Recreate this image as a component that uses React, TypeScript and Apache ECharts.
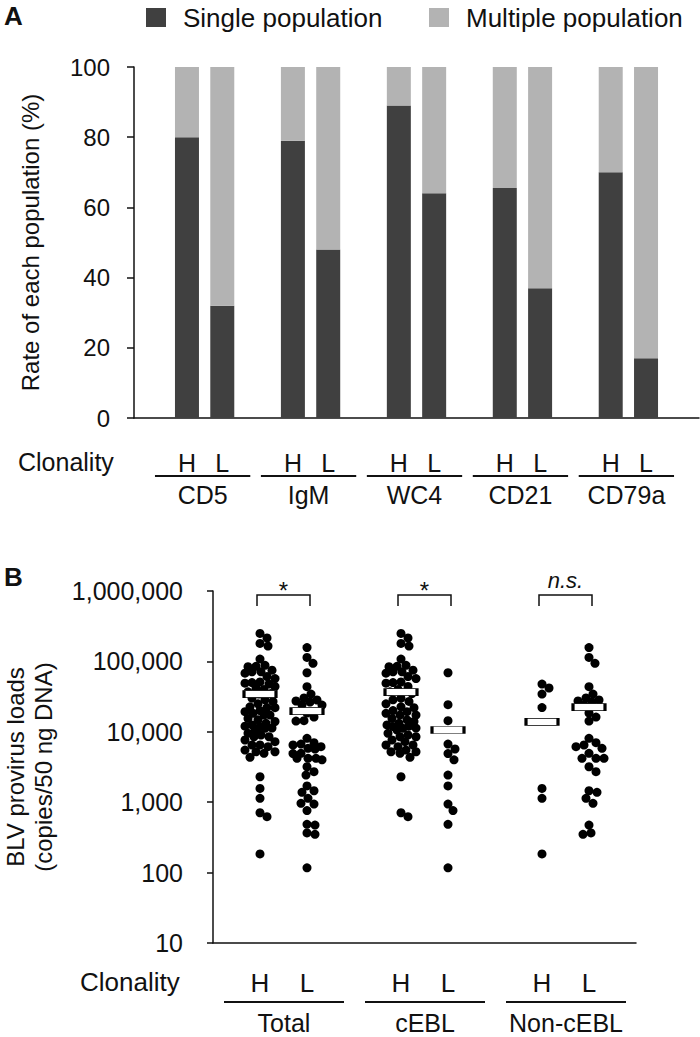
import React, { useEffect, useRef } from "react";
import * as echarts from "echarts";

const FONT = '"Liberation Sans", Arial, Helvetica, sans-serif';
const INK = "#111111";
const DARK = "#404040";
const LIGHT = "#b3b3b3";

// ---------- Panel A data ----------
const catA = ["", "H", "L", "", "H", "L", "", "H", "L", "", "H", "L", "", "H", "L", ""];
const markersA = ["CD5", "IgM", "WC4", "CD21", "CD79a"];
const singleH = [80, 79, 89, 65.5, 70];
const singleL = [32, 48, 64, 37, 17];
const multipleH = [20, 21, 11, 34.5, 30];
const multipleL = [68, 52, 36, 63, 83];
const yTicksA = [0, 20, 40, 60, 80, 100];

// ---------- Panel B data ----------
const groupsB = ["Total", "cEBL", "Non-cEBL"];
const labelsB: Record<number, string> = { 1: "H", 2: "L", 4: "H", 5: "L", 7: "H", 8: "L" };
const cEBL_H = [250000, 215000, 180000, 165000, 108000, 88000, 85000, 84000, 75000, 71000, 71000, 68000, 61000,
  57000, 51000, 50000, 49000, 44000, 40000, 37000, 35000, 30000, 28500, 27000, 25000, 22600, 22000, 20000, 19300,
  18300, 17300, 17300, 15500, 14800, 14000, 13200, 12500, 12000, 11900, 11300, 11200, 10600, 9500, 9000, 8500,
  8500, 7650, 7230, 6490, 6490, 6140, 5510, 5210, 5210, 4950, 4340, 2300, 708, 622];
const cEBL_L = [69000, 24300, 14400, 6700, 5700, 4900, 4000, 2430, 1700, 940, 760, 485, 117];
const nonCEBL_H = [47700, 41900, 34400, 22100, 1570, 1135, 184];
const nonCEBL_L = [157000, 114000, 94000, 43700, 34400, 30200, 28300, 27400, 26500, 24000, 18500, 16200, 14200,
  8090, 7000, 6490, 6140, 5830, 4950, 4200, 4200, 4200, 3190, 2710, 1455, 1380, 1135, 964, 474, 366, 350];
const total_H = cEBL_H.concat(nonCEBL_H);
const total_L = cEBL_L.concat(nonCEBL_L);
const meansB = [34400, 19700, 36700, 10600, 13800, 22400];
const signifB = ["*", "*", "n.s."];
const yTicksB = [10, 100, 1000, 10000, 100000, 1000000];

// layout constants
const GA = { left: 134, top: 67, width: 565, height: 351 };
const GB = { left: 213, top: 591, width: 423, height: 352 };

function yPixB(v: number) {
  return GB.top + (6 - Math.log10(v)) * (GB.height / 5);
}

// deterministic beeswarm layout (pixel offsets converted to axis units)
function swarm(values: number[], center: number) {
  const D = 8;
  const unit = GB.width / 9;
  const placed: { x: number; y: number }[] = [];
  const order = values.map((_, i) => i).sort((a, b) => values[b] - values[a]);
  const out: number[][] = new Array(values.length);
  for (const i of order) {
    const y = yPixB(values[i]);
    let best = 0;
    let bestScore = -Infinity;
    for (let k = 0; k <= 30; k++) {
      const off = (k % 2 === 1 ? 1 : -1) * Math.ceil(k / 2);
      let minD = Infinity;
      for (const p of placed) {
        const d = Math.hypot(p.x - off, p.y - y);
        if (d < minD) minD = d;
      }
      if (minD >= D) { best = off; break; }
      if (minD > bestScore) { bestScore = minD; best = off; }
    }
    placed.push({ x: best, y });
    out[i] = [center + best / unit, values[i]];
  }
  return out;
}

function txt(text: string, x: number, y: number, size: number, opts: any = {}) {
  return {
    type: "text",
    x, y,
    rotation: opts.rotation || 0,
    silent: true,
    style: {
      text,
      fill: INK,
      fontSize: size,
      fontFamily: FONT,
      fontWeight: opts.weight || "normal",
      fontStyle: opts.style || "normal",
      textAlign: opts.align || "center",
      align: opts.align || "center",
      textVerticalAlign: opts.valign || "middle",
      verticalAlign: opts.valign || "middle",
    },
  };
}

function line(x1: number, y1: number, x2: number, y2: number, w = 2) {
  return { type: "line", silent: true, shape: { x1, y1, x2, y2 }, style: { stroke: INK, lineWidth: w } };
}

export default function App() {
  const ref = useRef<HTMLDivElement>(null);
  useEffect(() => {
    document.body.style.margin = "0";
    if (!ref.current) return;
    const chart = echarts.init(ref.current, undefined, { renderer: "svg" });

    const singleData: (number | null)[] = catA.map(() => null);
    const multiData: (number | null)[] = catA.map(() => null);
    markersA.forEach((_, g) => {
      singleData[g * 3 + 1] = singleH[g];
      singleData[g * 3 + 2] = singleL[g];
      multiData[g * 3 + 1] = multipleH[g];
      multiData[g * 3 + 2] = multipleL[g];
    });

    const axisLine = { show: true, onZero: false, lineStyle: { color: INK, width: 1.5 } };
    const colsB = [total_H, total_L, cEBL_H, cEBL_L, nonCEBL_H, nonCEBL_L];
    const posB = [1, 2, 4, 5, 7, 8];
    const namesB = ["Total H", "Total L", "cEBL H", "cEBL L", "Non-cEBL H", "Non-cEBL L"];

    const option: any = {
      animation: false,
      textStyle: { fontFamily: FONT, color: INK },
      grid: [
        { ...GA, containLabel: false },
        { ...GB, containLabel: false },
      ],
      xAxis: [
        {
          type: "category", gridIndex: 0, data: catA,
          axisLine, axisTick: { show: false },
          axisLabel: { interval: 0, margin: 32, fontSize: 25, color: INK, fontFamily: FONT },
        },
        {
          type: "value", gridIndex: 1, min: 0, max: 9, interval: 1,
          axisLine, axisTick: { show: false }, splitLine: { show: false },
          axisLabel: {
            margin: 27, fontSize: 26, color: INK, fontFamily: FONT,
            showMinLabel: true, showMaxLabel: true,
            formatter: (v: number) => labelsB[Math.round(v)] ?? "",
          },
        },
      ],
      yAxis: [
        {
          type: "value", gridIndex: 0, min: yTicksA[0], max: yTicksA[yTicksA.length - 1], interval: 20,
          axisLine, axisTick: { show: true, length: 7, lineStyle: { color: INK, width: 1.5 } },
          splitLine: { show: false },
          axisLabel: { margin: 24, fontSize: 24, color: INK, fontFamily: FONT },
        },
        {
          type: "log", gridIndex: 1, logBase: 10, min: yTicksB[0], max: yTicksB[yTicksB.length - 1],
          axisLine, axisTick: { show: true, length: 6, lineStyle: { color: INK, width: 1.5 } },
          minorTick: { show: false }, splitLine: { show: false },
          axisLabel: {
            margin: 30, fontSize: 25, color: INK, fontFamily: FONT,
            formatter: (v: number) => Math.round(v).toLocaleString("en-US"),
          },
        },
      ],
      series: [
        {
          name: "Single population", type: "bar", stack: "pop", xAxisIndex: 0, yAxisIndex: 0,
          barWidth: 24, data: singleData, itemStyle: { color: DARK },
        },
        {
          name: "Multiple population", type: "bar", stack: "pop", xAxisIndex: 0, yAxisIndex: 0,
          barWidth: 24, data: multiData, itemStyle: { color: LIGHT },
        },
        ...colsB.map((vals, i) => ({
          name: namesB[i], type: "scatter", xAxisIndex: 1, yAxisIndex: 1,
          symbol: "circle", symbolSize: 9, itemStyle: { color: "#000", opacity: 1 }, z: 3,
          data: swarm(vals, posB[i]),
        })),
        {
          name: "Mean", type: "scatter", xAxisIndex: 1, yAxisIndex: 1,
          symbol: "rect", symbolSize: [32, 7], z: 5,
          itemStyle: { color: "#ffffff", borderColor: "#000", borderWidth: 1.5, opacity: 1 },
          data: meansB.map((m, i) => [posB[i], m]),
        },
      ],
    };
    chart.setOption(option);

    const pxA = (i: number) => chart.convertToPixel({ xAxisIndex: 0 }, i) as number;
    const pxB = (v: number) => chart.convertToPixel({ xAxisIndex: 1 }, v) as number;

    const g: any[] = [];
    // panel labels
    g.push(txt("A", 4, 16, 26, { weight: "bold", align: "left" }));
    g.push(txt("B", 4, 577, 26, { weight: "bold", align: "left" }));
    // legend
    g.push({ type: "rect", silent: true, shape: { x: 146, y: 8, width: 20, height: 19 }, style: { fill: DARK } });
    g.push(txt("Single population", 183, 18, 26, { align: "left" }));
    g.push({ type: "rect", silent: true, shape: { x: 429, y: 8, width: 20, height: 19 }, style: { fill: LIGHT } });
    g.push(txt("Multiple population", 466, 18, 26, { align: "left" }));
    // y axis names
    g.push(txt("Rate of each population (%)", 30, GA.top + GA.height / 2, 24, { rotation: Math.PI / 2 }));
    g.push(txt("BLV provirus loads", 15, GB.top + GB.height / 2, 24, { rotation: Math.PI / 2 }));
    g.push(txt("(copies/50 ng DNA)", 43, GB.top + GB.height / 2, 24, { rotation: Math.PI / 2 }));
    // panel A clonality row
    g.push(txt("Clonality", 18, 462, 25, { align: "left" }));
    markersA.forEach((m, k) => {
      const h = pxA(k * 3 + 1);
      const l = pxA(k * 3 + 2);
      g.push(line(h - 32, 476, l + 28, 476));
      g.push(txt(m, (h - 32 + l + 28) / 2, 495, 25));
    });
    // panel B clonality row + brackets
    g.push(txt("Clonality", 80, 982, 26, { align: "left" }));
    groupsB.forEach((name, k) => {
      const h = pxB(posB[k * 2]);
      const l = pxB(posB[k * 2 + 1]);
      g.push(line(h - 36, 1002, l + 37, 1002));
      g.push(txt(name, (h - 36 + l + 37) / 2, 1023, 25));
      g.push({
        type: "polyline", silent: true,
        shape: { points: [[h - 3, 606], [h - 3, 595], [l + 3, 595], [l + 3, 606]] },
        style: { stroke: INK, lineWidth: 1.5, fill: "none" },
      });
      const s = signifB[k];
      if (s === "*") g.push(txt(s, (h + l) / 2, 590, 24));
      else g.push(txt(s, (h + l) / 2, 580, 22, { style: "italic" }));
    });
    chart.setOption({ graphic: g });

    return () => chart.dispose();
  }, []);
  return <div ref={ref} style={{ width: 700, height: 1037 }} />;
}
